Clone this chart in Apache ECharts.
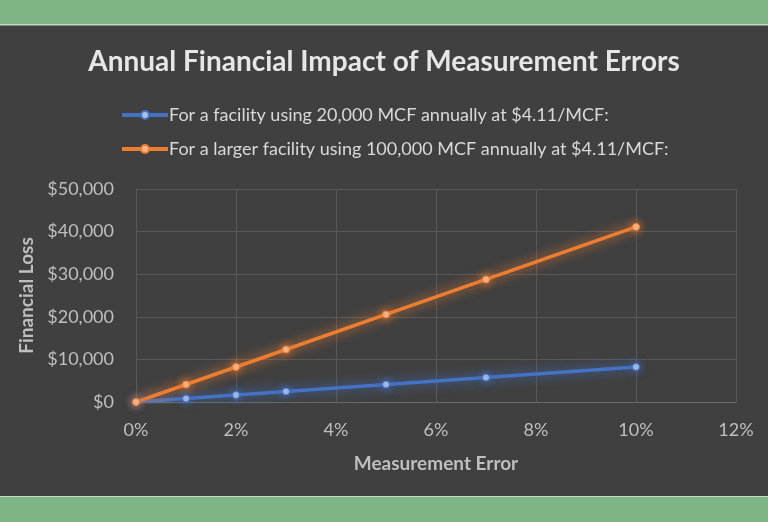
<!DOCTYPE html>
<html>
<head>
<meta charset="utf-8">
<script src="https://cdn.jsdelivr.net/npm/echarts@6/dist/echarts.min.js"></script>
<style>
  html, body { margin: 0; padding: 0; background: #404040; }
  #chart { width: 768px; height: 522px; }
</style>
</head>
<body>
<div id="chart"></div>
<script>
// measurement error (fraction) and yearly loss in dollars
const errorRates = [0, 0.01, 0.02, 0.03, 0.05, 0.07, 0.10];
const smallFacility = [0, 822, 1644, 2466, 4110, 5754, 8220];
const largeFacility = [0, 4110, 8220, 12330, 20550, 28770, 41100];
const seriesNames = [
    'For a facility using 20,000 MCF annually at $4.11/MCF:',
    'For a larger facility using 100,000 MCF annually at $4.11/MCF:'
];

const font = 'Lato';
const pair = (xs, ys) => xs.map((x, i) => [x, ys[i]]);

const chart = echarts.init(document.getElementById('chart'));

const lineSeries = (name, data, color, dot) => ({
    name: name,
    type: 'line',
    data: data,
    symbol: 'circle',
    symbolSize: 7,
    itemStyle: { color: dot, borderColor: color, borderWidth: 1, shadowBlur: 8, shadowColor: color },
    lineStyle: { width: 3.5, color: color, shadowBlur: 12, shadowColor: color },
    emphasis: { disabled: true }
});

chart.setOption({
    backgroundColor: '#404040',
    animation: false,
    graphic: [
        { type: 'rect', shape: { x: 0, y: 0, width: 768, height: 24 }, style: { fill: '#7db584' } },
        { type: 'rect', shape: { x: 0, y: 24, width: 768, height: 1.5 }, style: { fill: '#c8d8c8' } },
        { type: 'rect', shape: { x: 0, y: 496, width: 768, height: 1.5 }, style: { fill: '#c8d8c8' } },
        { type: 'rect', shape: { x: 0, y: 497, width: 768, height: 25 }, style: { fill: '#7db584' } }
    ],
    title: {
        text: 'Annual Financial Impact of Measurement Errors',
        left: 'center',
        top: 43,
        textStyle: { color: '#e6e6e6', fontFamily: font, fontWeight: 'bold', fontSize: 28 }
    },
    legend: {
        orient: 'vertical',
        left: 115,
        top: 101,
        itemWidth: 46,
        itemHeight: 10,
        itemGap: 16,
        data: seriesNames,
        lineStyle: { width: 4, shadowBlur: 0 },
        itemStyle: { shadowBlur: 0 },
        textStyle: { color: '#d9d9d9', fontFamily: font, fontSize: 18, padding: [0, 0, 0, -4] }
    },
    grid: { left: 136, right: 32, top: 189, bottom: 120 },
    xAxis: {
        type: 'value',
        min: 0,
        max: 0.12,
        interval: 0.02,
        name: 'Measurement Error',
        nameLocation: 'middle',
        nameGap: 52,
        nameTextStyle: { color: '#bfbfbf', fontFamily: font, fontWeight: 'bold', fontSize: 19 },
        axisLine: { lineStyle: { color: '#6a6a6a' } },
        axisTick: { show: false },
        axisLabel: {
            color: '#bfbfbf', fontFamily: font, fontSize: 18, margin: 19,
            formatter: v => Math.round(v * 100) + '%'
        },
        splitLine: { show: true, lineStyle: { color: '#595959' } }
    },
    yAxis: {
        type: 'value',
        min: 0,
        max: 50000,
        interval: 10000,
        name: 'Financial Loss',
        nameLocation: 'middle',
        nameGap: 98,
        nameTextStyle: { color: '#bfbfbf', fontFamily: font, fontWeight: 'bold', fontSize: 19 },
        axisLine: { show: true, lineStyle: { color: '#595959' } },
        axisTick: { show: false },
        axisLabel: {
            color: '#bfbfbf', fontFamily: font, fontSize: 18, margin: 22,
            formatter: v => '$' + v.toLocaleString('en-US')
        },
        splitLine: { lineStyle: { color: '#595959' } }
    },
    series: [
        lineSeries(seriesNames[0], pair(errorRates, smallFacility), '#4472c4', '#a9bfe8'),
        lineSeries(seriesNames[1], pair(errorRates, largeFacility), '#ed7d31', '#f6b78e')
    ]
});
</script>
</body>
</html>
